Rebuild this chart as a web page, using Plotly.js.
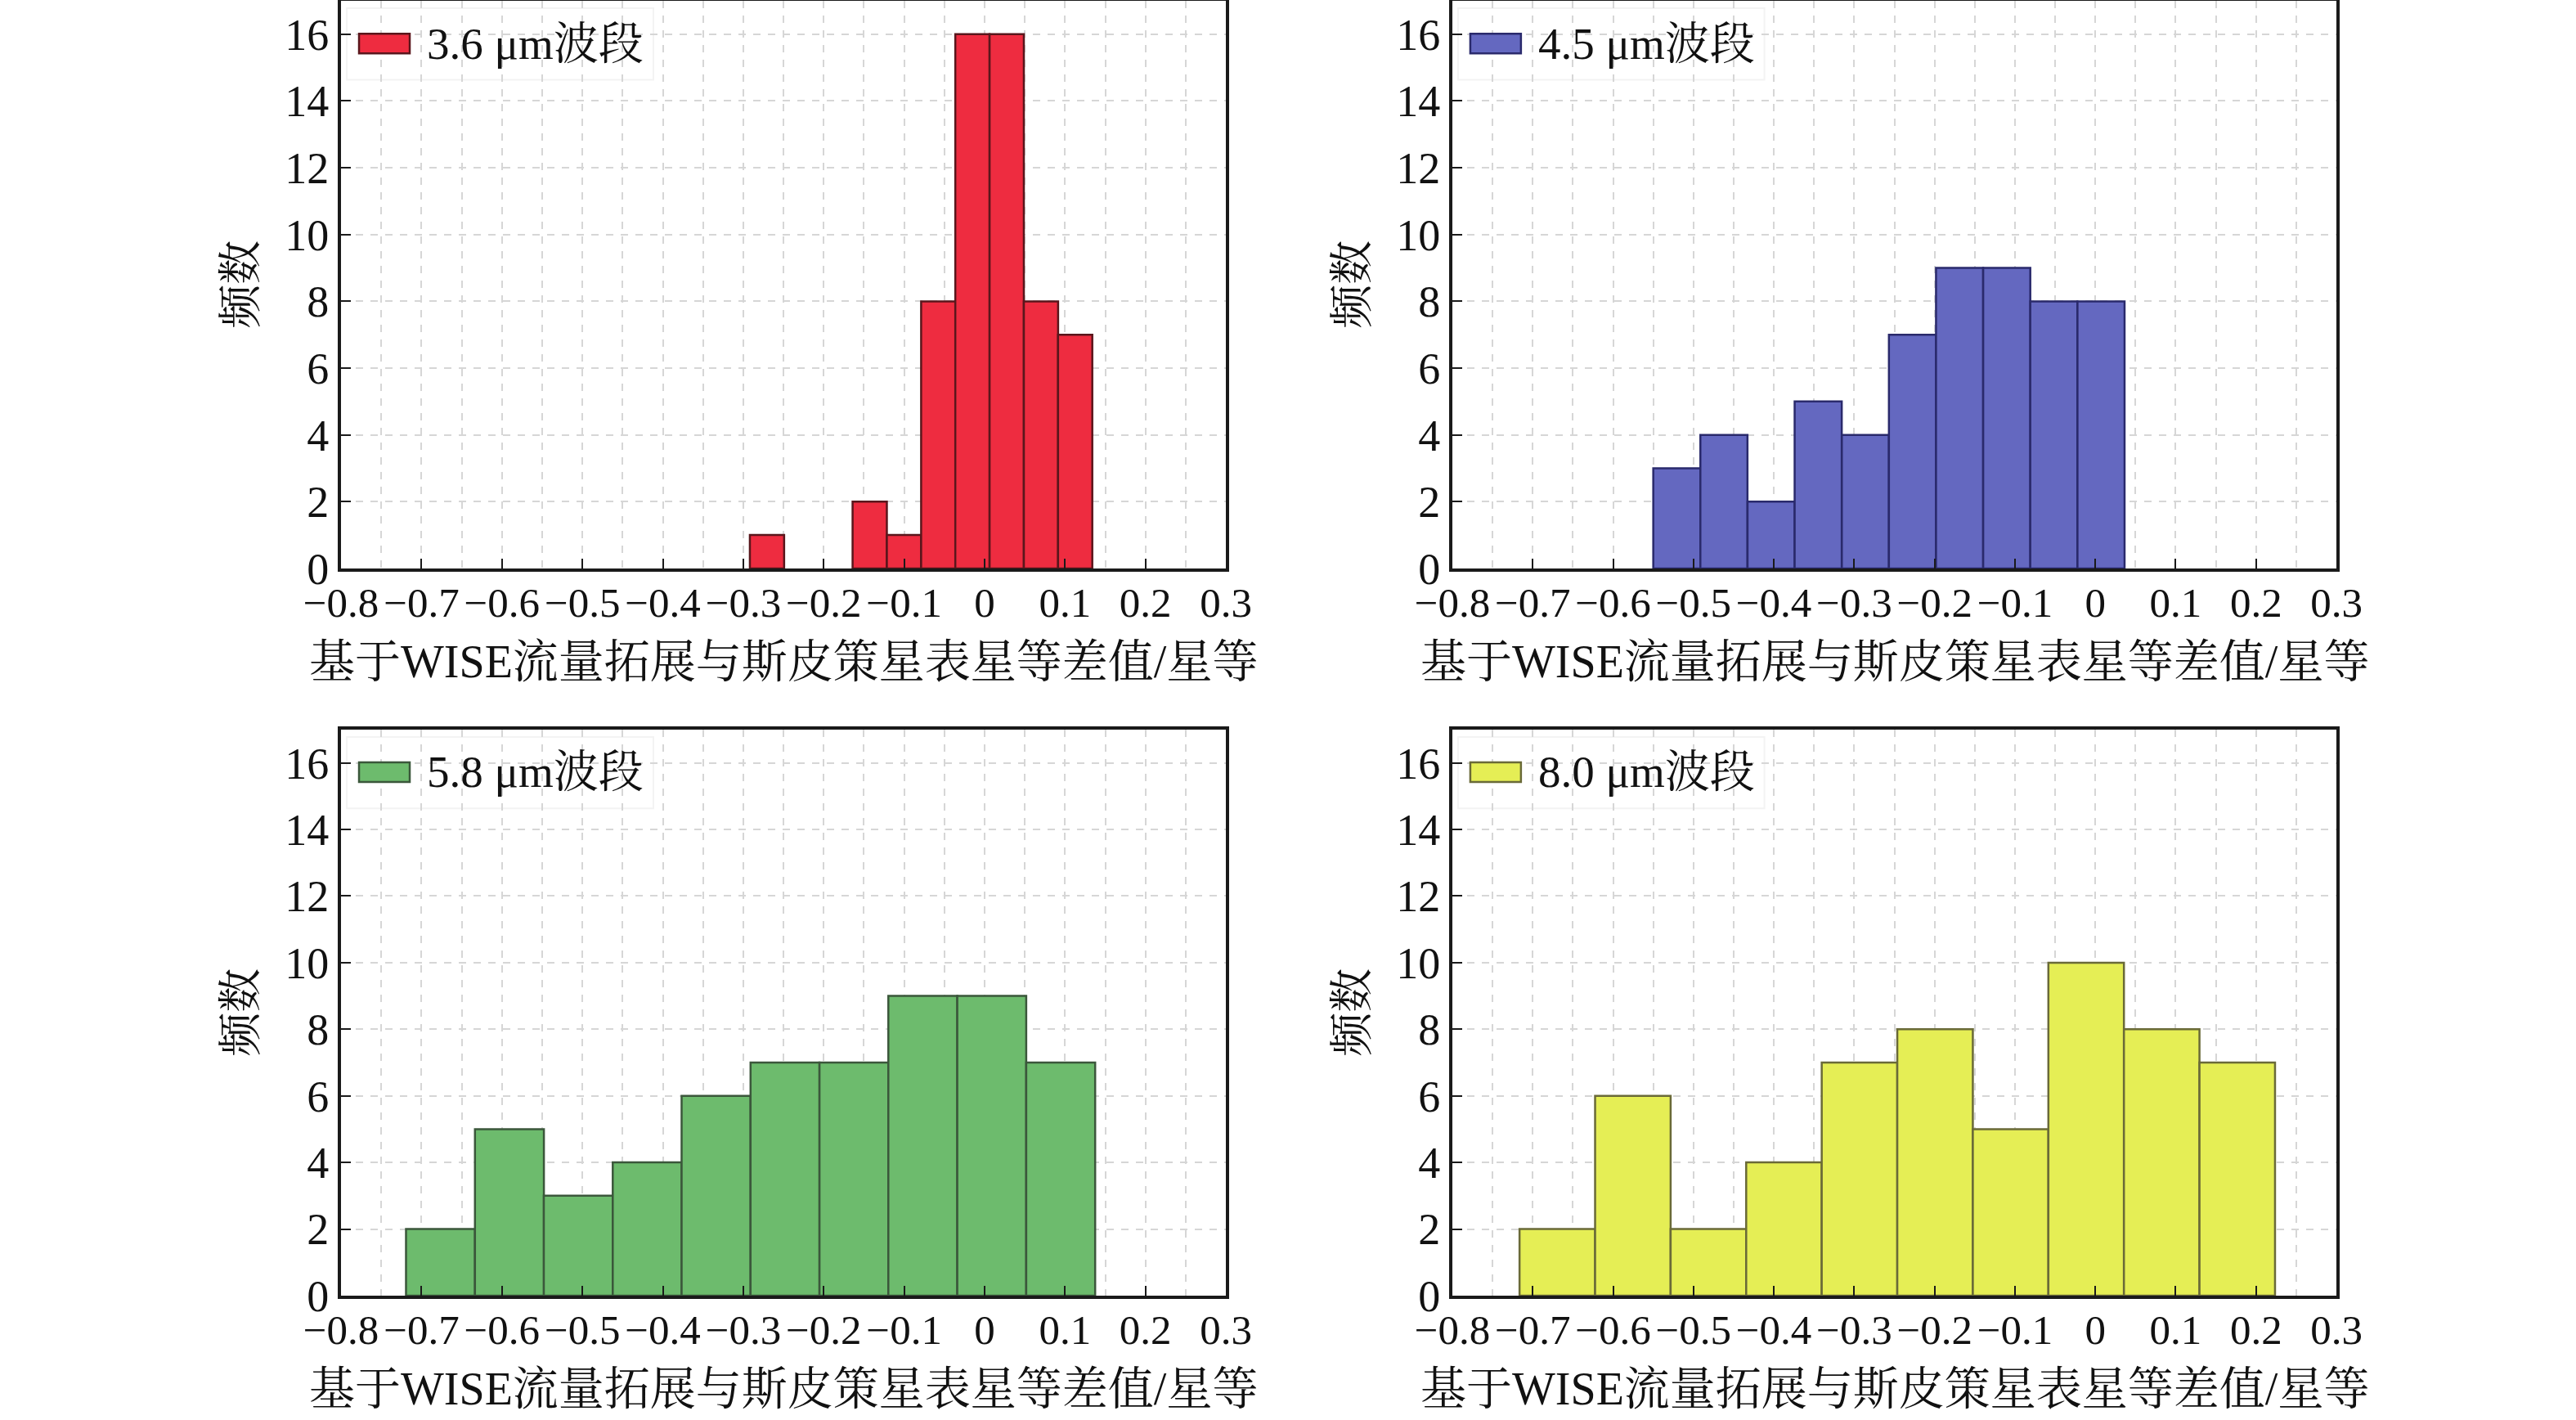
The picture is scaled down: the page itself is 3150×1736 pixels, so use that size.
<!DOCTYPE html>
<html>
<head>
<meta charset="utf-8">
<script src="https://cdn.plot.ly/plotly-3.0.1.min.js"></script>
<style>
  html, body { margin: 0; padding: 0; background: #fff; }
  #chart { width: 3150px; height: 1736px; }
</style>
</head>
<body>
<div id="chart"></div>
<script>
// Histogram bins: bin centres, counts, common bin width per band.
const band36Centers = [-0.2705, -0.1428, -0.1002, -0.0576, -0.0151, 0.0275, 0.0701, 0.1126];
const band36Counts  = [1, 2, 1, 8, 16, 16, 8, 7];
const band36Width   = 0.0426;

const band45Centers = [-0.5207, -0.4621, -0.4034, -0.3448, -0.2861, -0.2275, -0.1689, -0.1102, -0.0516, 0.0071];
const band45Counts  = [3, 4, 2, 5, 4, 7, 9, 9, 8, 8];
const band45Width   = 0.0586;

const band58Centers = [-0.6764, -0.5907, -0.5051, -0.4194, -0.3338, -0.2481, -0.1624, -0.0768, 0.0089, 0.0946];
const band58Counts  = [2, 5, 3, 4, 6, 7, 7, 9, 9, 7];
const band58Width   = 0.0857;

const band80Centers = [-0.6694, -0.5754, -0.4814, -0.3874, -0.2934, -0.1994, -0.1054, -0.0114, 0.0826, 0.1766];
const band80Counts  = [2, 6, 2, 4, 7, 8, 5, 10, 8, 7];
const band80Width   = 0.094;

const bandLabels = ["3.6 μm波段", "4.5 μm波段", "5.8 μm波段", "8.0 μm波段"];
const xTitle = "基于WISE流量拓展与斯皮策星表星等差值/星等";
const yTitle = "频数";

const FONT = "'Liberation Serif', 'Times New Roman', 'Noto Serif CJK SC', 'Noto Sans CJK SC', serif";
const fills   = ["#ee2c40", "#6468c0", "#6dbb6d", "#e5ee55"];
const strokes = ["#5a161c", "#2a2a6c", "#3b573b", "#6a6a38"];

const panels = [
    { c: band36Centers, n: band36Counts, w: band36Width },
    { c: band45Centers, n: band45Counts, w: band45Width },
    { c: band58Centers, n: band58Counts, w: band58Width },
    { c: band80Centers, n: band80Counts, w: band80Width },
];

// subplot domains (paper fractions)
const xDomains = [[0.1324, 0.4759], [0.5638, 0.9070]];
const yDomains = [[0.5997, 0.9994], [0.0876, 0.4862]];

const traces = panels.map((p, i) => ({
    type: "bar",
    x: p.c,
    y: p.n,
    width: p.w,
    xaxis: i === 0 ? "x" : "x" + (i + 1),
    yaxis: i === 0 ? "y" : "y" + (i + 1),
    marker: { color: fills[i], line: { color: strokes[i], width: 2.5 } },
    showlegend: false,
    hoverinfo: "x+y",
}));

function xAxis(i) {
    return {
        domain: xDomains[i % 2],
        anchor: i === 0 ? "y" : "y" + (i + 1),
        range: [-0.8, 0.3],
        tick0: -0.8, dtick: 0.1,
        tickangle: 0,
        ticks: "inside", ticklen: 12, tickwidth: 2, tickcolor: "#1a1a1a",
        ticklabelstandoff: -6,
        showline: true, mirror: true, linecolor: "#1a1a1a", linewidth: 4,
        showgrid: true, gridcolor: "#d6d6d6", gridwidth: 2, griddash: "dash",
        minor: { dtick: 0.05, tick0: -0.8, showgrid: true, gridcolor: "#d6d6d6", gridwidth: 2, griddash: "dash" },
        zeroline: false,
        tickfont: { family: FONT, size: 51, color: "#111" },
        fixedrange: true,
    };
}

function yAxis(i) {
    return {
        domain: yDomains[Math.floor(i / 2)],
        anchor: i === 0 ? "x" : "x" + (i + 1),
        range: [0, 17],
        tick0: 0, dtick: 2,
        ticks: "inside", ticklen: 12, tickwidth: 2, tickcolor: "#1a1a1a",
        showline: true, mirror: true, linecolor: "#1a1a1a", linewidth: 4,
        showgrid: true, gridcolor: "#d6d6d6", gridwidth: 2, griddash: "dash",
        zeroline: false,
        tickfont: { family: FONT, size: 54, color: "#111" },
        fixedrange: true,
    };
}

const layout = {
    width: 3150, height: 1736,
    margin: { t: 0, b: 0, l: 0, r: 0 },
    paper_bgcolor: "#fff", plot_bgcolor: "#fff",
    bargap: 0,
    showlegend: false,
    font: { family: FONT, color: "#111" },
    shapes: [],
    annotations: [],
};

panels.forEach((p, i) => {
    const xs = i === 0 ? "" : String(i + 1);
    layout["xaxis" + xs] = xAxis(i);
    layout["yaxis" + xs] = yAxis(i);
    const xr = "x" + xs + " domain", yr = "y" + xs + " domain";

    // legend box + patch
    layout.shapes.push({
        type: "rect", xref: xr, yref: yr, layer: "below",
        x0: 0.0065, x1: 0.353, y0: 0.861, y1: 0.987,
        fillcolor: "#fff", line: { color: "#f3f3f3", width: 2 },
    });
    layout.shapes.push({
        type: "rect", xref: xr, yref: yr, layer: "above",
        x0: 0.0203, x1: 0.0776, y0: 0.9075, y1: 0.942,
        fillcolor: fills[i], line: { color: strokes[i], width: 2.5 },
    });
    layout.annotations.push({
        xref: xr, yref: yr, x: 0.095, y: 0.925,
        xanchor: "left", yanchor: "middle", showarrow: false,
        text: bandLabels[i], font: { family: FONT, size: 55, color: "#111" },
    });
    // axis titles
    layout.annotations.push({
        xref: xr, yref: yr, x: 0.5, y: -0.165,
        xanchor: "center", yanchor: "middle", showarrow: false,
        text: xTitle, font: { family: FONT, size: 56, color: "#111" },
    });
    layout.annotations.push({
        xref: xr, yref: yr, x: -0.113, y: 0.5,
        xanchor: "center", yanchor: "middle", showarrow: false, textangle: -90,
        text: yTitle, font: { family: FONT, size: 54, color: "#111" },
    });
});

Plotly.newPlot("chart", traces, layout, { staticPlot: true });
</script>
</body>
</html>
